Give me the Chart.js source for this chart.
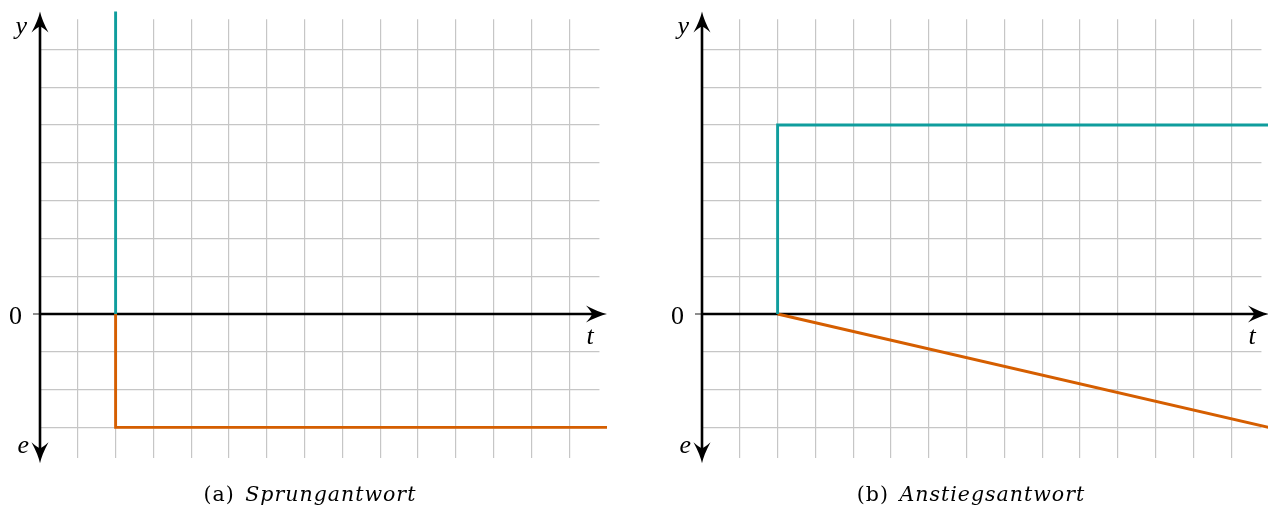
<!DOCTYPE html>
<html>
<head>
<meta charset="utf-8">
<script src="https://cdn.jsdelivr.net/npm/chart.js@4.4.1/dist/chart.umd.min.js"></script>
<style>
html, body { margin: 0; padding: 0; background: #fff; }
#wrap { position: relative; width: 1268px; height: 510px; overflow: hidden; }
#wrap canvas { position: absolute; top: 0; }
#cvA { left: 0; }
#cvB { left: 634px; }
.cap {
  position: absolute; top: 482px;
  font-family: "DejaVu Serif", serif;
  font-size: 20.5px; letter-spacing: 1px; color: #000; white-space: nowrap;
  transform: translateX(-50%);
}
.cap i { margin-left: 3px; }
</style>
</head>
<body>
<div id="wrap">
  <canvas id="cvA" width="634" height="510"></canvas>
  <canvas id="cvB" width="634" height="510"></canvas>
  <div class="cap" style="left:310px">(a) <i>Sprungantwort</i></div>
  <div class="cap" style="left:971px">(b) <i>Anstiegsantwort</i></div>
</div>
<script>
// (a) Sprungantwort: output y and error e
const stepYT = [2, 2];
const stepYV = [0, 8];
const stepET = [2, 2, 15];
const stepEV = [0, -3, -3];

// (b) Anstiegsantwort
const rampYT = [2, 2, 15];
const rampYV = [0, 5, 5];
const rampET = [2, 15];
const rampEV = [0, -3];

const axisNames = ["t", "y", "e"];
const zeroLabel = "0";

const TEAL = "#0f9d9d";
const ORANGE = "#d55e00";
const GRID = "#c6c6c6";
const SERIF = '"Liberation Serif", "DejaVu Serif", serif';

function pts(xs, ys) {
  return xs.map(function (x, i) { return { x: x, y: ys[i] }; });
}

// LaTeX-ish stealth arrow head, tip at (px,py), pointing along angle a
function arrowHead(ctx, px, py, a) {
  ctx.save();
  ctx.translate(px, py);
  ctx.rotate(a);
  ctx.beginPath();
  ctx.moveTo(0, 0);
  ctx.quadraticCurveTo(-9, -2, -21, -8.5);
  ctx.quadraticCurveTo(-16, -3, -15, 0);
  ctx.quadraticCurveTo(-16, 3, -21, 8.5);
  ctx.quadraticCurveTo(-9, 2, 0, 0);
  ctx.closePath();
  ctx.fillStyle = "#000";
  ctx.fill();
  ctx.restore();
}

const axesPlugin = {
  id: "axes",
  beforeDatasetsDraw: function (chart, args, o) {
    const ctx = chart.ctx;
    const sx = chart.scales.x, sy = chart.scales.y;
    const x0 = sx.getPixelForValue(0), y0 = sy.getPixelForValue(0);
    const xEnd = sx.getPixelForValue(o.tEnd);
    const yTop = sy.getPixelForValue(o.yTop);
    const yBot = sy.getPixelForValue(o.yBot);
    ctx.save();
    // tick mark at 0
    ctx.strokeStyle = "#444";
    ctx.lineWidth = 1.2;
    ctx.beginPath();
    ctx.moveTo(x0 - 7, y0);
    ctx.lineTo(x0, y0);
    ctx.stroke();
    // axes
    ctx.strokeStyle = "#000";
    ctx.lineWidth = 2.6;
    ctx.beginPath();
    ctx.moveTo(x0, y0);
    ctx.lineTo(xEnd - 12, y0);
    ctx.moveTo(x0, yBot - 12);
    ctx.lineTo(x0, yTop + 12);
    ctx.stroke();
    arrowHead(ctx, xEnd, y0, 0);
    arrowHead(ctx, x0, yTop, -Math.PI / 2);
    arrowHead(ctx, x0, yBot, Math.PI / 2);
    // labels
    ctx.fillStyle = "#000";
    ctx.textBaseline = "alphabetic";
    ctx.font = "26px " + SERIF;
    ctx.textAlign = "right";
    ctx.fillText(zeroLabel, x0 - 18, y0 + 10);
    ctx.font = "italic 26px " + SERIF;
    ctx.fillText(axisNames[1], x0 - 13, yTop + 22);
    ctx.fillText(axisNames[2], x0 - 11, yBot - 10);
    ctx.textAlign = "center";
    ctx.fillText(axisNames[0], xEnd - 17, y0 + 30);
    ctx.restore();
  }
};

function makeChart(id, padLeft, padRight, sets) {
  return new Chart(document.getElementById(id), {
    type: "line",
    data: {
      datasets: sets.map(function (s) {
        return {
          data: s.data,
          borderColor: s.color,
          borderWidth: 2.9,
          pointRadius: 0,
          tension: 0,
          borderJoinStyle: "miter",
          borderCapStyle: "butt",
          clip: false
        };
      })
    },
    options: {
      responsive: false,
      animation: false,
      events: [],
      layout: { padding: { left: padLeft, right: padRight, top: 19.16, bottom: 52.36 } },
      plugins: {
        legend: { display: false },
        tooltip: { enabled: false },
        axes: { tEnd: 15, yTop: 8, yBot: -3.95 }
      },
      scales: {
        x: {
          type: "linear", min: 0, max: 14.8,
          border: { display: false },
          grid: { color: GRID, lineWidth: 1.2, drawTicks: false },
          ticks: { display: false, stepSize: 1, includeBounds: false }
        },
        y: {
          type: "linear", min: -3.8, max: 7.8,
          border: { display: false },
          grid: { color: GRID, lineWidth: 1.2, drawTicks: false },
          ticks: { display: false, stepSize: 1, includeBounds: false }
        }
      }
    },
    plugins: [axesPlugin]
  });
}

makeChart("cvA", 40, 34.56, [
  { data: pts(stepYT, stepYV), color: TEAL },
  { data: pts(stepET, stepEV), color: ORANGE }
]);

makeChart("cvB", 68, 6.56, [
  { data: pts(rampYT, rampYV), color: TEAL },
  { data: pts(rampET, rampEV), color: ORANGE }
]);
</script>
</body>
</html>
